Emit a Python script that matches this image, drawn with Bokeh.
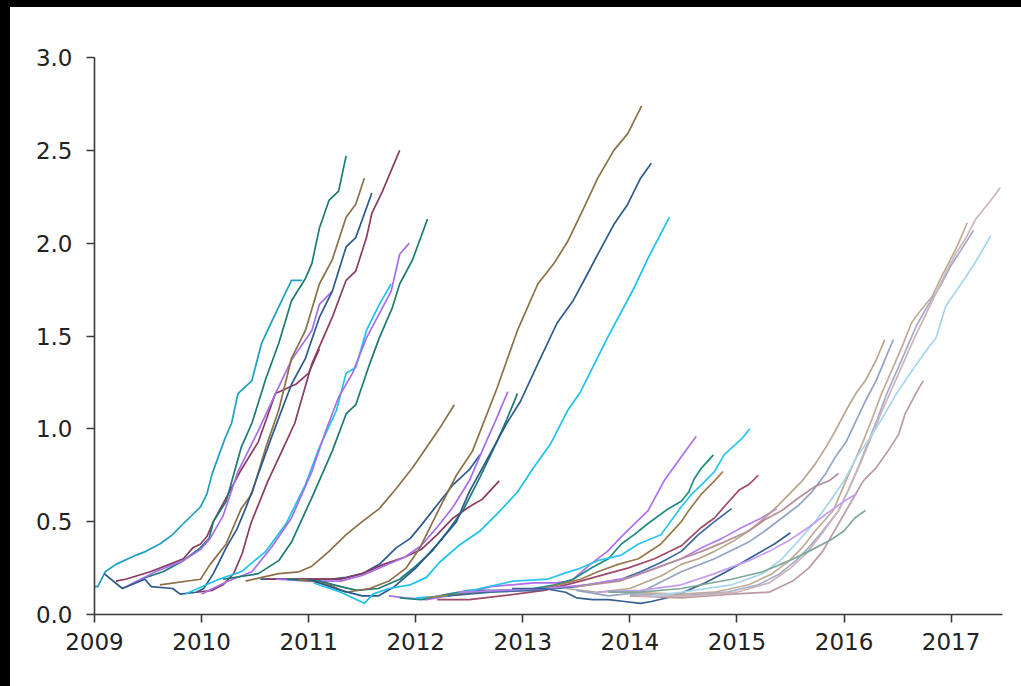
from bokeh.plotting import figure
from bokeh.models import Range1d, FixedTicker, Spacer
from bokeh.layouts import column, row
from bokeh.embed import file_html
from bokeh.resources import INLINE

# ---- curves: (decimal year, value) ----
a1_t = [2009.0, 2009.03, 2009.1, 2009.2, 2009.39, 2009.48, 2009.61, 2009.73, 2009.83, 2009.92, 2009.99, 2010.05, 2010.1, 2010.22, 2010.28, 2010.34, 2010.47, 2010.56, 2010.69, 2010.84, 2010.94]
a1_v = [0.15, 0.15, 0.23, 0.27, 0.32, 0.34, 0.38, 0.43, 0.49, 0.54, 0.58, 0.65, 0.76, 0.95, 1.03, 1.19, 1.26, 1.46, 1.62, 1.80, 1.80]
a2_t = [2009.2, 2009.29, 2009.52, 2009.7, 2009.83, 2009.92, 2009.99, 2010.05, 2010.11, 2010.25, 2010.36, 2010.53, 2010.69, 2010.88, 2011.0, 2011.1]
a2_v = [0.18, 0.19, 0.23, 0.27, 0.30, 0.36, 0.38, 0.42, 0.50, 0.65, 0.77, 0.93, 1.19, 1.24, 1.30, 1.43]
a3_t = [2009.43, 2009.64, 2009.83, 2009.99, 2010.07, 2010.11, 2010.23, 2010.37, 2010.47, 2010.6, 2010.72, 2010.84, 2010.97, 2011.03, 2011.1, 2011.19, 2011.28, 2011.35]
a3_v = [0.19, 0.23, 0.29, 0.36, 0.41, 0.50, 0.61, 0.90, 1.03, 1.27, 1.46, 1.69, 1.81, 1.89, 2.08, 2.23, 2.28, 2.47]
a4_t = [2009.26, 2009.57, 2009.83, 2009.99, 2010.08, 2010.2, 2010.34, 2010.53, 2010.69, 2010.84, 2011.03, 2011.1, 2011.22]
a4_v = [0.14, 0.23, 0.29, 0.35, 0.41, 0.53, 0.77, 0.99, 1.19, 1.37, 1.53, 1.67, 1.74]
a5_t = [2009.61, 2009.99, 2010.08, 2010.23, 2010.37, 2010.47, 2010.6, 2010.72, 2010.84, 2010.97, 2011.1, 2011.22, 2011.35, 2011.44, 2011.52]
a5_v = [0.16, 0.19, 0.27, 0.38, 0.57, 0.65, 0.90, 1.10, 1.38, 1.53, 1.78, 1.91, 2.14, 2.21, 2.35]
a6_t = [2009.09, 2009.26, 2009.47, 2009.53, 2009.73, 2009.8, 2009.95, 2010.02, 2010.11, 2010.23, 2010.33, 2010.41, 2010.47, 2010.65, 2010.84, 2010.97, 2011.1, 2011.22, 2011.35, 2011.44, 2011.59]
a6_v = [0.22, 0.14, 0.19, 0.15, 0.14, 0.11, 0.12, 0.14, 0.22, 0.36, 0.46, 0.57, 0.66, 0.95, 1.24, 1.38, 1.60, 1.74, 1.98, 2.03, 2.27]
a7_t = [2009.95, 2010.1, 2010.2, 2010.3, 2010.38, 2010.46, 2010.62, 2010.75, 2010.87, 2011.03, 2011.22, 2011.35, 2011.44, 2011.54, 2011.59, 2011.69, 2011.85]
a7_v = [0.12, 0.13, 0.16, 0.22, 0.33, 0.49, 0.72, 0.88, 1.03, 1.35, 1.60, 1.80, 1.85, 2.03, 2.16, 2.28, 2.50]
a8_t = [2009.85, 2010.16, 2010.37, 2010.6, 2010.79, 2010.97, 2011.1, 2011.26, 2011.35, 2011.44, 2011.54, 2011.66, 2011.77]
a8_v = [0.11, 0.19, 0.23, 0.34, 0.49, 0.70, 0.90, 1.10, 1.30, 1.33, 1.53, 1.67, 1.78]
a9_t = [2010.0, 2010.25, 2010.47, 2010.65, 2010.84, 2011.03, 2011.16, 2011.28, 2011.41, 2011.54, 2011.66, 2011.77, 2011.85, 2011.94]
a9_v = [0.11, 0.18, 0.23, 0.36, 0.52, 0.77, 0.99, 1.17, 1.30, 1.49, 1.62, 1.74, 1.94, 2.00]
a10_t = [2010.2, 2010.53, 2010.72, 2010.84, 2011.03, 2011.22, 2011.35, 2011.44, 2011.57, 2011.66, 2011.78, 2011.85, 2011.97, 2012.11]
a10_v = [0.19, 0.22, 0.29, 0.39, 0.63, 0.88, 1.08, 1.13, 1.35, 1.49, 1.65, 1.78, 1.91, 2.13]
a11_t = [2010.41, 2010.72, 2010.91, 2011.03, 2011.19, 2011.35, 2011.5, 2011.66, 2011.82, 2011.97, 2012.1, 2012.22, 2012.36]
a11_v = [0.18, 0.22, 0.23, 0.26, 0.34, 0.43, 0.50, 0.57, 0.68, 0.79, 0.90, 1.00, 1.13]

b1_t = [2010.55, 2010.9, 2011.2, 2011.35, 2011.5, 2011.66, 2011.82, 2011.95, 2012.05, 2012.2, 2012.35, 2012.5, 2012.6]
b1_v = [0.19, 0.19, 0.19, 0.20, 0.22, 0.27, 0.36, 0.41, 0.48, 0.59, 0.70, 0.78, 0.86]
b2_t = [2010.6, 2011.0, 2011.3, 2011.5, 2011.7, 2011.9, 2012.05, 2012.2, 2012.35, 2012.5, 2012.62, 2012.78]
b2_v = [0.19, 0.19, 0.19, 0.22, 0.27, 0.31, 0.35, 0.43, 0.52, 0.58, 0.62, 0.72]
b3_t = [2010.7, 2011.0, 2011.3, 2011.5, 2011.7, 2011.9, 2012.05, 2012.2, 2012.35, 2012.5, 2012.65, 2012.75, 2012.86]
b3_v = [0.19, 0.18, 0.18, 0.21, 0.26, 0.31, 0.37, 0.47, 0.58, 0.72, 0.92, 1.05, 1.20]
b4_t = [2010.8, 2011.1, 2011.3, 2011.45, 2011.65, 2011.85, 2012.0, 2012.15, 2012.3, 2012.45, 2012.6, 2012.75, 2012.85, 2012.95]
b4_v = [0.19, 0.18, 0.15, 0.13, 0.14, 0.19, 0.26, 0.34, 0.45, 0.57, 0.74, 0.92, 1.05, 1.19]
b5_t = [2010.9, 2011.03, 2011.19, 2011.35, 2011.57, 2011.75, 2011.91, 2012.04, 2012.22, 2012.38, 2012.53, 2012.76, 2012.95, 2013.14, 2013.29, 2013.42, 2013.57, 2013.7, 2013.85, 2013.98, 2014.11]
b5_v = [0.19, 0.18, 0.16, 0.12, 0.14, 0.18, 0.25, 0.36, 0.57, 0.75, 0.88, 1.22, 1.53, 1.78, 1.89, 2.01, 2.19, 2.35, 2.50, 2.59, 2.74]
b6_t = [2011.0, 2011.3, 2011.5, 2011.65, 2011.8, 2012.0, 2012.22, 2012.38, 2012.5, 2012.67, 2012.85, 2012.98, 2013.14, 2013.32, 2013.47, 2013.6, 2013.7, 2013.85, 2013.98, 2014.1, 2014.2]
b6_v = [0.19, 0.13, 0.10, 0.10, 0.15, 0.25, 0.39, 0.50, 0.66, 0.84, 1.03, 1.15, 1.35, 1.57, 1.69, 1.83, 1.94, 2.10, 2.21, 2.35, 2.43]
b7_t = [2011.05, 2011.3, 2011.45, 2011.52, 2011.6, 2011.75, 2011.95, 2012.1, 2012.22, 2012.4, 2012.6, 2012.79, 2012.95, 2013.1, 2013.26, 2013.42, 2013.54, 2013.79, 2014.04, 2014.17, 2014.37]
b7_v = [0.17, 0.12, 0.08, 0.06, 0.11, 0.14, 0.16, 0.20, 0.28, 0.37, 0.45, 0.56, 0.66, 0.79, 0.92, 1.10, 1.20, 1.49, 1.76, 1.92, 2.14]

c1_t = [2011.75, 2011.9, 2012.1, 2012.3, 2012.5, 2012.7, 2012.9, 2013.1, 2013.3, 2013.45, 2013.63, 2013.79, 2013.94, 2014.17, 2014.32, 2014.48, 2014.62]
c1_v = [0.10, 0.09, 0.08, 0.10, 0.12, 0.15, 0.16, 0.17, 0.17, 0.18, 0.27, 0.34, 0.43, 0.56, 0.72, 0.85, 0.96]
c2_t = [2011.85, 2012.05, 2012.3, 2012.5, 2012.8, 2013.1, 2013.3, 2013.47, 2013.64, 2013.8, 2013.92, 2014.04, 2014.17, 2014.36, 2014.48, 2014.55, 2014.6, 2014.67, 2014.78]
c2_v = [0.09, 0.08, 0.11, 0.13, 0.13, 0.14, 0.16, 0.19, 0.25, 0.30, 0.38, 0.43, 0.49, 0.57, 0.61, 0.66, 0.73, 0.79, 0.86]
c3_t = [2012.0, 2012.3, 2012.6, 2012.91, 2013.23, 2013.38, 2013.54, 2013.7, 2013.92, 2014.08, 2014.29, 2014.48, 2014.58, 2014.67, 2014.79, 2014.88, 2015.05, 2015.12]
c3_v = [0.09, 0.10, 0.14, 0.18, 0.19, 0.22, 0.25, 0.29, 0.32, 0.38, 0.43, 0.58, 0.65, 0.70, 0.77, 0.86, 0.95, 1.00]
c4_t = [2012.1, 2012.4, 2012.8, 2013.2, 2013.54, 2013.7, 2013.89, 2014.08, 2014.29, 2014.48, 2014.55, 2014.67, 2014.79, 2014.87]
c4_v = [0.09, 0.11, 0.13, 0.14, 0.19, 0.23, 0.27, 0.30, 0.38, 0.50, 0.56, 0.65, 0.72, 0.77]
c5_t = [2012.2, 2012.5, 2012.8, 2013.2, 2013.54, 2013.79, 2013.98, 2014.23, 2014.48, 2014.67, 2014.79, 2014.88, 2015.02, 2015.11, 2015.2]
c5_v = [0.08, 0.08, 0.10, 0.13, 0.18, 0.22, 0.25, 0.30, 0.37, 0.47, 0.52, 0.58, 0.67, 0.70, 0.75]
c6_t = [2012.3, 2012.7, 2013.1, 2013.5, 2013.92, 2014.1, 2014.29, 2014.48, 2014.64, 2014.79, 2014.95]
c6_v = [0.10, 0.12, 0.13, 0.15, 0.19, 0.23, 0.28, 0.34, 0.43, 0.50, 0.57]
c7_t = [2012.4, 2012.8, 2013.2, 2013.6, 2014.0, 2014.48, 2014.67, 2014.86, 2015.05, 2015.23, 2015.37]
c7_v = [0.12, 0.13, 0.14, 0.16, 0.20, 0.30, 0.36, 0.41, 0.47, 0.52, 0.57]
c8_t = [2012.9, 2013.2, 2013.4, 2013.5, 2013.65, 2013.8, 2013.95, 2014.1, 2014.2, 2014.35, 2014.5, 2014.7, 2014.9, 2015.05, 2015.2, 2015.35, 2015.5]
c8_v = [0.14, 0.14, 0.12, 0.09, 0.08, 0.08, 0.07, 0.06, 0.07, 0.09, 0.12, 0.17, 0.23, 0.28, 0.33, 0.38, 0.44]

d1_t = [2013.4, 2013.7, 2014.0, 2014.3, 2014.48, 2014.64, 2014.79, 2014.95, 2015.11, 2015.26, 2015.39, 2015.49, 2015.61, 2015.73, 2015.83, 2015.92, 2016.02, 2016.11, 2016.2, 2016.3, 2016.38]
d1_v = [0.14, 0.12, 0.14, 0.21, 0.27, 0.30, 0.34, 0.39, 0.45, 0.52, 0.59, 0.65, 0.72, 0.81, 0.90, 0.99, 1.10, 1.19, 1.26, 1.37, 1.48]
d2_t = [2013.5, 2013.8, 2014.1, 2014.48, 2014.79, 2015.11, 2015.26, 2015.42, 2015.58, 2015.7, 2015.83, 2015.92, 2016.02, 2016.11, 2016.2, 2016.3, 2016.38, 2016.46]
d2_v = [0.13, 0.10, 0.12, 0.23, 0.30, 0.39, 0.45, 0.52, 0.59, 0.66, 0.76, 0.85, 0.93, 1.04, 1.15, 1.26, 1.37, 1.48]
d3_t = [2014.0, 2014.48, 2014.95, 2015.3, 2015.52, 2015.67, 2015.8, 2015.89, 2016.0, 2016.09, 2016.18, 2016.3, 2016.41, 2016.51, 2016.57, 2016.67, 2016.74]
d3_v = [0.10, 0.09, 0.11, 0.12, 0.18, 0.25, 0.34, 0.43, 0.54, 0.63, 0.72, 0.79, 0.88, 0.97, 1.08, 1.19, 1.26]
d4_t = [2013.9, 2014.48, 2014.79, 2015.11, 2015.33, 2015.49, 2015.61, 2015.73, 2015.9, 2015.98, 2016.07, 2016.17, 2016.26, 2016.35, 2016.45, 2016.54, 2016.63, 2016.69, 2016.82, 2016.92, 2017.01, 2017.07, 2017.15]
d4_v = [0.12, 0.11, 0.12, 0.16, 0.22, 0.29, 0.36, 0.45, 0.56, 0.67, 0.79, 0.92, 1.05, 1.19, 1.32, 1.44, 1.57, 1.62, 1.71, 1.83, 1.93, 2.00, 2.11]
d5_t = [2014.0, 2014.48, 2014.9, 2015.2, 2015.4, 2015.55, 2015.67, 2015.8, 2015.95, 2016.04, 2016.13, 2016.22, 2016.31, 2016.4, 2016.5, 2016.59, 2016.68, 2016.78, 2016.9, 2017.0, 2017.1, 2017.21]
d5_v = [0.11, 0.10, 0.12, 0.16, 0.22, 0.29, 0.36, 0.45, 0.56, 0.67, 0.79, 0.92, 1.05, 1.19, 1.32, 1.44, 1.56, 1.66, 1.77, 1.88, 1.97, 2.07]
d6_t = [2014.1, 2014.6, 2015.0, 2015.3, 2015.5, 2015.65, 2015.8, 2015.95, 2016.05, 2016.15, 2016.25, 2016.35, 2016.45, 2016.55, 2016.65, 2016.75, 2016.85, 2016.95, 2017.05, 2017.14, 2017.23, 2017.37, 2017.46]
d6_v = [0.10, 0.10, 0.12, 0.17, 0.25, 0.33, 0.44, 0.56, 0.68, 0.81, 0.95, 1.09, 1.22, 1.35, 1.48, 1.60, 1.72, 1.84, 1.95, 2.03, 2.13, 2.23, 2.30]
d7_t = [2014.2, 2014.48, 2014.95, 2015.24, 2015.42, 2015.58, 2015.73, 2015.87, 2016.0, 2016.11, 2016.24, 2016.36, 2016.49, 2016.62, 2016.74, 2016.86, 2016.95, 2017.14, 2017.23, 2017.37]
d7_v = [0.10, 0.12, 0.16, 0.22, 0.30, 0.40, 0.50, 0.61, 0.72, 0.84, 0.95, 1.06, 1.19, 1.30, 1.40, 1.49, 1.66, 1.82, 1.90, 2.04]
d8_t = [2013.5, 2013.9, 2014.2, 2014.48, 2014.67, 2014.88, 2015.11, 2015.26, 2015.42, 2015.58, 2015.73, 2015.86, 2015.95]
d8_v = [0.15, 0.18, 0.24, 0.30, 0.34, 0.39, 0.45, 0.51, 0.56, 0.63, 0.69, 0.72, 0.76]
d9_t = [2013.7, 2014.1, 2014.48, 2014.79, 2015.11, 2015.3, 2015.49, 2015.67, 2015.83, 2016.0, 2016.12]
d9_v = [0.12, 0.13, 0.16, 0.22, 0.29, 0.34, 0.40, 0.47, 0.54, 0.61, 0.65]
d10_t = [2013.8, 2014.1, 2014.48, 2014.95, 2015.24, 2015.49, 2015.67, 2015.87, 2016.0, 2016.1, 2016.2]
d10_v = [0.12, 0.12, 0.14, 0.19, 0.23, 0.29, 0.34, 0.40, 0.45, 0.52, 0.56]

year_ticks = [2009, 2010, 2011, 2012, 2013, 2014, 2015, 2016, 2017]
value_ticks = [0.0, 0.5, 1.0, 1.5, 2.0, 2.5, 3.0]

TEAL_BLUE = "#1f9ec2"
MAROON = "#8b3a62"
TEAL = "#1b7a72"
PURPLE = "#a66ee8"
BROWN = "#8b7048"
NAVY = "#2c5a8c"
CYAN = "#1cc2ee"

curves = [
    (a1_t, a1_v, TEAL_BLUE), (a2_t, a2_v, MAROON), (a3_t, a3_v, TEAL),
    (a4_t, a4_v, PURPLE), (a5_t, a5_v, BROWN), (a6_t, a6_v, NAVY),
    (a7_t, a7_v, MAROON), (a8_t, a8_v, CYAN), (a9_t, a9_v, PURPLE),
    (a10_t, a10_v, TEAL), (a11_t, a11_v, BROWN),
    (b1_t, b1_v, NAVY), (b2_t, b2_v, MAROON), (b3_t, b3_v, PURPLE),
    (b4_t, b4_v, TEAL), (b5_t, b5_v, BROWN), (b6_t, b6_v, NAVY),
    (b7_t, b7_v, CYAN),
    (c1_t, c1_v, "#ad6ff0"), (c2_t, c2_v, "#1f8a80"), (c3_t, c3_v, "#2cc4f0"),
    (c4_t, c4_v, "#9a7a4c"), (c5_t, c5_v, "#a04a6a"), (c6_t, c6_v, "#3a6a9e"),
    (c7_t, c7_v, "#b47ef2"), (c8_t, c8_v, "#34608f"),
    (d1_t, d1_v, "#b9a58c"), (d2_t, d2_v, "#93a3c6"), (d3_t, d3_v, "#bb9aa2"),
    (d4_t, d4_v, "#c2ab94"), (d5_t, d5_v, "#a3adc9"), (d6_t, d6_v, "#cdb4ba"),
    (d7_t, d7_v, "#a5d6ee"), (d8_t, d8_v, "#b48e98"), (d9_t, d9_v, "#c49cf0"),
    (d10_t, d10_v, "#7fa89c"),
]

p = figure(width=1011, height=679, output_backend="svg", toolbar_location=None,
           x_range=Range1d(2009, 2017.48), y_range=Range1d(0, 3.0),
           min_border_left=84, min_border_right=19, min_border_top=50, min_border_bottom=72)
p.outline_line_color = None
p.background_fill_color = "white"
p.border_fill_color = "white"
p.xgrid.visible = False
p.ygrid.visible = False

for t, v, c in curves:
    p.line(t, v, line_color=c, line_width=1.7, line_join="round")

for ax in (p.xaxis[0], p.yaxis[0]):
    ax.axis_line_color = "#3a3a3a"
    ax.axis_line_width = 1.6
    ax.major_tick_line_color = "#3a3a3a"
    ax.major_tick_line_width = 1.6
    ax.major_tick_in = 0
    ax.major_tick_out = 8
    ax.minor_tick_line_color = None
    ax.major_label_text_font = "DejaVu Sans"
    ax.major_label_text_font_size = "23px"
    ax.major_label_text_color = "#222222"

p.xaxis.ticker = FixedTicker(ticks=year_ticks)
p.yaxis.ticker = FixedTicker(ticks=value_ticks)
p.xaxis.major_label_overrides = {t: str(t) for t in year_ticks}
p.yaxis.major_label_overrides = {t: f"{t:.1f}" for t in value_ticks}
p.xaxis.major_label_standoff = 10
p.yaxis.major_label_standoff = 14

top_band = Spacer(width=1021, height=7, styles={"background-color": "black"})
left_band = Spacer(width=10, height=679, styles={"background-color": "black"})
page = column(top_band, row(left_band, p, spacing=0), spacing=0)

open("out.html", "w").write(file_html(page, INLINE))
